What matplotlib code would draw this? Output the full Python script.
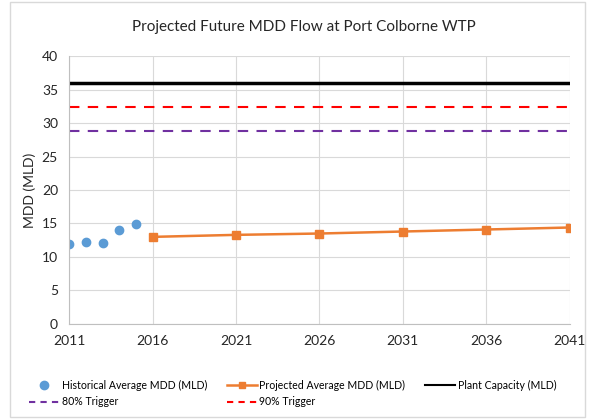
import matplotlib.pyplot as plt
from matplotlib.patches import Rectangle

plt.rcParams['font.family'] = ['Lato', 'DejaVu Sans']

# data
hist_years = [2011, 2012, 2013, 2014, 2015]
hist_mdd = [11.9, 12.3, 12.1, 14.0, 14.9]
proj_years = [2016, 2021, 2026, 2031, 2036, 2041]
proj_mdd = [13.0, 13.3, 13.5, 13.8, 14.1, 14.4]
capacity = 36.0
trigger_80 = 28.8
trigger_90 = 32.4
x_ticks = [2011, 2016, 2021, 2026, 2031, 2036, 2041]

fig = plt.figure(figsize=(5.96, 4.19), dpi=100)
ax = fig.add_axes([0.116, 0.227, 0.84, 0.639])

# outer chart frame
fig.patches.append(Rectangle((0.017, 0.005), 0.965, 0.99, transform=fig.transFigure,
                             fill=False, edgecolor='#d9d9d9', lw=1))

h1, = ax.plot(hist_years, hist_mdd, 'o', color='#5B9BD5', ms=6, ls='none',
              label='Historical Average MDD (MLD)')
h2, = ax.plot(proj_years, proj_mdd, '-s', color='#ED7D31', ms=6, lw=1.8,
              label='Projected Average MDD (MLD)')
h3 = ax.axhline(capacity, color='black', lw=2.5, label='Plant Capacity (MLD)')
h4 = ax.axhline(trigger_80, color='#7030A0', lw=1.5, ls=(0, (5, 4)), label='80% Trigger')
h5 = ax.axhline(trigger_90, color='#FF0000', lw=1.5, ls=(0, (5, 4)), label='90% Trigger')

ax.set_xlim(2011, 2041)
ax.set_ylim(0, 40)
ax.set_xticks(x_ticks)
ax.set_yticks(range(0, 41, 5))
ax.grid(True, color='#d9d9d9', lw=0.8)
ax.set_axisbelow(True)
for s in ['top', 'right']:
    ax.spines[s].set_visible(False)
for s in ['left', 'bottom']:
    ax.spines[s].set_color('#bfbfbf')
ax.tick_params(length=0, labelsize=10, colors='#262626', pad=8)
ax.set_ylabel('MDD (MLD)', fontsize=10, color='#262626', labelpad=4)

fig.text(0.51, 0.935, 'Projected Future MDD Flow at Port Colborne WTP',
         ha='center', va='center', fontsize=11, color='#262626')

# legend handles (thinner/shorter dashes like the original)
h2_leg, = ax.plot([], [], '-s', color='#ED7D31', ms=5, lw=1.8)
h3_leg, = ax.plot([], [], color='black', lw=1.5)
h4_leg, = ax.plot([], [], color='#7030A0', lw=1.5, ls=(0, (3, 2.5)))
h5_leg, = ax.plot([], [], color='#FF0000', lw=1.5, ls=(0, (3, 2.5)))

fig.legend([h1, h4_leg, h2_leg, h5_leg, h3_leg],
           [h1.get_label(), h4.get_label(), h2.get_label(), h5.get_label(), h3.get_label()],
           ncol=3, loc='lower left', bbox_to_anchor=(0.037, 0.01), frameon=False,
           fontsize=7.6, handlelength=2.8, columnspacing=1.9, labelspacing=0.55,
           handletextpad=0.25, borderpad=0.2)

fig.savefig('out.png', dpi=100)
